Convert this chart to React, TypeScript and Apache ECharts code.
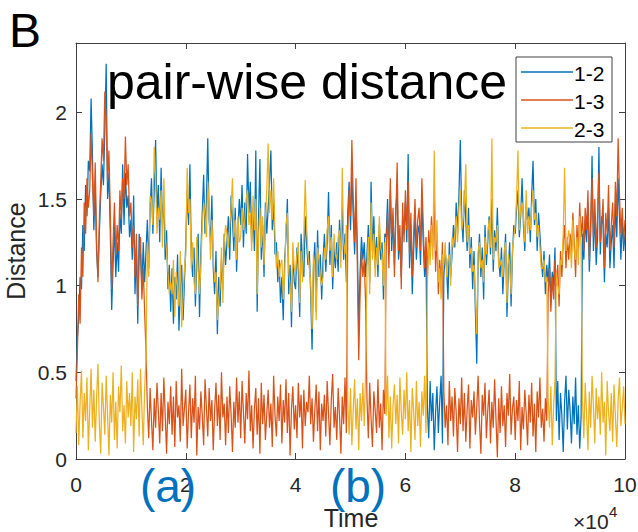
import React, { useEffect, useRef } from "react";
import * as echarts from "echarts";

// Pair-wise distances sampled every 250 time units (0 .. 100000)
const d12 = [
  0.45,0.70,0.82,1.05,0.98,1.35,1.20,1.58,1.40,1.72,
  1.66,2.08,1.75,1.32,1.58,1.20,1.05,1.30,1.52,1.70,
  1.58,1.90,2.28,1.50,1.65,1.30,0.86,1.12,1.36,1.05,
  1.25,1.08,1.42,1.30,1.70,1.35,1.65,1.45,1.52,1.28,
  1.38,1.15,1.52,0.95,1.22,0.78,1.30,1.18,0.98,1.25,
  1.02,1.20,1.38,1.10,1.45,1.62,1.30,1.55,1.84,1.40,
  1.58,1.25,1.68,1.35,1.50,1.15,1.32,0.98,1.12,0.85,
  1.10,0.78,1.05,0.92,1.18,0.74,0.98,1.12,0.80,1.02,
  1.25,1.55,1.35,1.70,1.18,1.05,1.22,0.88,1.15,1.30,
  0.82,1.20,1.42,1.64,1.30,1.48,1.85,1.38,1.25,1.52,
  1.10,0.95,1.20,0.72,1.05,0.88,1.15,0.98,1.30,1.12,
  1.25,1.40,1.15,1.52,1.38,1.20,1.45,1.08,1.32,1.50,
  1.35,1.58,1.22,1.48,1.30,1.76,1.42,1.60,1.25,1.45,
  1.20,1.78,0.85,1.40,1.73,1.15,1.35,1.05,1.48,1.30,
  1.45,1.60,1.78,1.32,1.50,1.18,1.25,1.02,1.15,0.90,
  1.05,0.80,1.15,1.28,1.50,0.95,1.12,0.76,1.20,1.02,
  0.98,1.22,1.08,0.82,1.30,1.15,1.05,1.40,1.25,1.12,
  1.20,0.95,0.63,1.10,1.25,0.85,1.32,1.05,1.18,0.92,
  1.15,1.30,1.08,1.25,1.54,1.12,1.35,0.98,1.22,1.10,
  1.25,1.08,1.38,1.20,1.45,1.15,1.30,1.02,1.42,1.60,
  1.32,1.65,1.40,1.18,1.48,1.22,0.75,1.08,1.28,1.15,
  1.25,1.05,1.18,1.35,1.02,1.60,1.20,1.40,1.10,1.28,
  1.05,1.35,1.15,1.25,0.92,1.30,1.28,1.50,1.18,1.55,
  1.20,1.38,1.12,1.45,1.55,1.15,1.28,1.05,1.40,1.30,
  1.48,1.25,1.76,1.10,1.35,0.95,1.20,1.42,1.15,1.30,
  1.35,1.12,1.50,1.25,1.05,1.20,0.30,0.12,0.45,0.22,
  0.38,0.05,0.27,0.42,0.15,0.33,0.48,0.09,1.05,1.20,
  1.10,0.92,1.25,1.05,1.18,1.35,1.22,1.48,1.30,1.52,
  1.84,1.40,1.25,1.55,1.38,1.20,1.45,1.10,1.28,0.98,
  1.20,0.85,0.55,1.15,1.30,1.05,1.22,0.92,1.35,1.12,
  1.25,1.40,1.18,1.50,1.08,1.32,1.20,1.45,1.15,1.05,
  1.22,0.95,1.15,1.30,0.82,1.10,1.25,0.88,1.18,1.35,
  1.30,1.45,1.55,1.28,1.40,1.62,1.35,1.20,1.48,1.38,
  1.45,1.25,1.52,1.72,1.35,1.50,1.20,1.42,1.30,1.15,
  1.05,1.20,0.95,1.12,1.02,1.18,0.90,1.08,1.00,1.22,
  0.22,0.45,0.11,0.38,0.25,0.04,0.33,0.48,0.17,0.40,
  0.28,0.09,0.36,0.20,0.47,0.14,0.31,0.06,0.24,1.30,
  1.15,1.38,1.25,1.48,1.08,1.30,1.75,1.20,1.42,1.12,
  1.28,1.80,1.18,1.40,1.35,1.02,1.30,1.22,1.45,1.10,
  1.25,1.35,1.10,1.48,1.28,1.62,1.40,1.15,1.38,1.20,
  1.30,
];

const d13 = [
  0.35,0.62,0.95,0.78,1.22,1.05,1.48,1.30,1.62,1.45,
  1.55,1.88,1.62,1.40,1.71,1.25,1.02,1.38,1.60,1.85,
  1.72,2.12,1.95,1.60,1.78,1.42,0.98,1.25,1.48,1.18,
  1.35,1.20,1.55,1.38,1.62,1.50,1.86,1.58,1.70,1.40,
  1.48,1.22,1.35,1.05,1.30,0.88,1.15,1.28,0.92,1.10,
  0.85,0.62,0.30,0.12,0.41,0.22,0.05,0.35,0.18,0.44,
  0.28,0.09,0.38,0.16,0.47,0.25,0.03,0.33,0.20,0.42,
  0.14,0.36,0.07,0.45,0.24,0.31,0.10,0.52,0.19,0.29,
  0.40,0.06,0.27,0.43,0.12,0.35,0.21,0.48,0.02,0.30,
  0.17,0.39,0.25,0.08,0.46,0.30,0.13,0.41,0.22,0.34,
  0.05,0.28,0.44,0.19,0.37,0.11,0.50,0.24,0.32,0.08,
  0.36,0.15,0.42,0.26,0.04,0.33,0.18,0.47,0.21,0.39,
  0.12,0.45,0.27,0.09,0.38,0.23,0.51,0.16,0.31,0.06,
  0.29,0.41,0.14,0.35,0.03,0.44,0.20,0.37,0.11,0.26,
  0.40,0.18,0.32,0.07,0.48,0.25,0.13,0.36,0.22,0.43,
  0.09,0.34,0.21,0.46,0.15,0.38,0.02,0.29,0.42,0.17,
  0.31,0.12,0.44,0.24,0.37,0.06,0.40,0.19,0.33,0.27,
  0.48,0.20,0.35,0.10,0.28,0.43,0.16,0.39,0.05,0.32,
  0.22,0.37,0.13,0.45,0.26,0.08,0.34,0.49,0.18,0.30,
  0.11,0.41,0.25,0.03,0.36,0.20,0.47,0.15,1.30,1.55,
  1.40,1.84,1.50,1.25,1.62,1.10,0.57,0.95,1.20,1.05,
  1.15,0.90,0.35,0.12,0.44,0.23,0.07,0.39,0.28,0.15,
  0.46,0.18,0.32,0.05,0.40,0.26,1.20,1.42,1.10,1.62,
  1.28,1.45,1.05,1.38,1.71,1.20,1.35,0.98,1.48,1.25,
  1.55,1.32,1.60,1.18,1.42,1.05,1.30,1.50,1.22,1.38,
  1.45,1.20,1.62,1.35,1.10,1.28,1.05,1.32,1.18,1.40,
  1.22,1.50,1.08,1.30,0.95,1.15,1.02,1.25,0.40,0.18,
  0.31,0.08,0.45,0.22,0.36,0.13,0.41,0.27,0.04,0.35,
  0.20,0.47,0.16,0.38,0.10,0.29,0.43,0.06,0.34,0.24,
  0.39,0.14,0.30,0.48,0.21,0.03,0.37,0.25,0.44,0.12,
  0.28,0.40,0.09,0.33,0.18,0.46,0.23,0.01,0.35,0.15,
  0.42,0.19,0.31,0.07,0.38,0.25,0.49,0.14,0.29,0.36,
  0.11,0.34,0.22,0.45,0.05,0.30,0.17,0.40,0.26,0.08,
  0.37,0.21,0.44,0.13,0.32,0.04,0.39,0.24,0.47,0.18,
  0.29,0.10,0.35,0.22,0.95,1.10,0.85,1.05,0.92,1.15,
  1.00,1.12,0.88,1.20,1.05,1.25,1.35,1.10,1.28,1.15,
  1.30,1.18,1.42,1.25,1.05,1.35,1.20,1.48,1.28,1.40,
  1.20,1.45,1.32,1.55,1.15,1.38,1.62,1.28,1.50,1.22,
  1.40,1.65,1.25,1.35,1.50,1.10,1.42,1.30,1.58,1.20,
  1.35,1.48,1.22,1.60,1.40,1.85,1.52,1.30,1.45,1.25,
  1.38,
];

const d23 = [
  0.15,0.42,0.08,0.33,0.51,0.12,0.38,0.22,0.47,0.05,
  0.28,0.52,0.18,0.40,0.10,0.35,0.55,0.20,0.03,0.44,
  0.30,0.14,0.48,0.25,0.02,0.37,0.21,0.50,0.11,0.33,
  0.06,0.42,0.27,0.54,0.16,0.31,0.09,0.45,0.24,0.38,
  0.19,0.50,0.04,0.36,0.23,0.46,0.13,0.52,0.29,0.08,
  0.40,0.58,1.25,1.05,1.52,1.48,1.35,1.80,1.62,1.30,
  1.45,1.38,1.55,1.22,1.62,1.28,1.20,1.08,0.95,1.02,
  0.95,1.15,0.82,1.08,1.00,0.88,1.20,0.76,0.93,1.10,
  1.18,1.68,1.42,1.50,1.10,1.25,1.02,0.95,1.28,1.08,
  0.95,1.12,1.35,1.48,1.40,1.28,1.60,1.45,1.15,1.38,
  1.18,1.02,1.08,0.80,0.92,1.00,1.22,0.90,1.25,1.35,
  1.30,1.22,1.35,1.45,1.62,1.28,1.38,1.15,1.40,1.25,
  1.28,1.45,1.32,1.38,1.50,1.55,1.35,1.42,1.20,1.52,
  1.32,1.50,0.95,1.28,1.45,1.22,1.40,1.12,1.38,1.55,
  1.82,1.42,1.55,1.38,1.62,1.28,1.10,1.20,1.05,1.12,
  1.15,0.92,1.05,1.35,1.42,1.08,1.00,0.85,1.25,1.10,
  1.08,1.18,1.25,0.90,1.20,1.02,1.30,1.61,1.35,1.18,
  1.10,1.02,0.75,1.18,1.12,0.80,1.22,1.15,1.05,1.00,
  1.05,1.22,1.15,1.32,1.40,1.20,1.28,1.05,1.30,1.18,
  1.15,1.28,1.32,1.10,1.68,1.25,1.18,1.35,0.32,0.14,
  0.41,0.08,0.29,0.46,0.17,0.35,0.05,0.38,0.22,0.44,
  0.19,0.50,1.10,1.28,0.95,1.48,1.15,1.30,1.05,1.22,
  1.12,1.40,1.22,1.18,1.00,1.25,0.25,0.48,0.12,0.36,
  0.06,0.31,0.43,0.20,0.37,0.09,0.47,0.27,0.14,0.40,
  0.23,0.50,0.16,0.34,0.04,0.41,0.28,0.11,0.45,0.19,
  0.33,0.07,0.39,0.25,0.48,0.15,1.00,1.25,1.12,1.35,
  1.15,1.78,1.20,1.38,1.02,1.10,0.92,1.18,1.12,1.25,
  1.05,1.15,1.18,1.00,1.28,1.22,1.30,1.40,1.25,1.45,
  1.55,1.32,1.38,1.48,1.70,1.25,1.35,1.18,1.22,1.08,
  1.12,0.95,0.72,1.20,1.25,1.10,1.15,1.02,1.28,1.18,
  1.30,1.38,1.22,1.85,1.15,1.28,1.25,1.35,1.10,1.12,
  1.15,1.05,1.20,1.25,0.90,1.18,1.12,0.95,1.22,1.28,
  1.35,1.50,1.78,1.32,1.45,1.48,1.40,1.25,1.55,1.30,
  1.40,1.32,1.45,1.55,1.38,1.42,1.28,1.35,1.22,1.10,
  1.10,1.15,1.02,1.05,0.35,0.18,0.42,0.08,0.30,0.46,
  1.08,1.00,0.95,1.15,1.12,1.30,1.68,1.20,1.25,1.32,
  1.25,1.10,1.38,1.20,1.15,1.28,1.12,1.40,1.22,0.35,
  0.12,0.44,0.26,0.05,0.39,0.18,0.48,0.31,0.09,0.41,
  0.23,0.36,0.14,0.50,0.21,0.33,0.02,0.45,0.27,0.16,
  0.38,0.10,0.43,0.25,0.07,0.34,0.47,0.19,0.30,0.42,
  0.20,
];

const TIME_STEP = 250;
const seriesNames = ["1-2", "1-3", "2-3"];
const seriesColors = ["#0072BD", "#D95319", "#EDB120"];
const X_MAX = 100000;
const X_INTERVAL = 20000;
const Y_MAX = 2.4;
const Y_INTERVAL = 0.5;

const FONT = "'Liberation Sans', Arial, Helvetica, sans-serif";
const AXIS_COLOR = "#404040";
const TEXT_COLOR = "#262626";

export default function App() {
  const ref = useRef<HTMLDivElement>(null);

  useEffect(() => {
    if (!ref.current) return;
    const chart = echarts.init(ref.current, null, { renderer: "svg" });
    const all = [d12, d13, d23];
    const toPairs = (arr: number[]) => arr.map((v, i) => [i * TIME_STEP, v]);

    const axisLine = { show: true, onZero: false, lineStyle: { color: AXIS_COLOR, width: 1 } };
    const axisTick = { show: true, inside: true, length: 6, lineStyle: { color: AXIS_COLOR, width: 1 } };

    const xBase = { type: "value", min: 0, max: X_MAX, interval: X_INTERVAL, axisLine, axisTick, splitLine: { show: false } };
    const yBase = { type: "value", min: 0, max: Y_MAX, interval: Y_INTERVAL, axisLine, axisTick, splitLine: { show: false } };

    const legendGraphics: any[] = [
      {
        type: "rect",
        shape: { x: 516, y: 57, width: 96, height: 85 },
        style: { fill: "#ffffff", stroke: AXIS_COLOR, lineWidth: 1 },
        z: 100,
      },
    ];
    seriesNames.forEach((name, k) => {
      const y = 72 + k * 28;
      legendGraphics.push({
        type: "line",
        shape: { x1: 521, y1: y, x2: 573, y2: y },
        style: { stroke: seriesColors[k], lineWidth: 1.3 },
        z: 101,
      });
      legendGraphics.push({
        type: "text",
        x: 574,
        y: y + 1,
        style: { text: name, font: `21px ${FONT}`, fill: "#000", textAlign: "left", textVerticalAlign: "middle" },
        z: 101,
      });
    });

    chart.setOption({
      animation: false,
      backgroundColor: "#ffffff",
      grid: { left: 76, right: 13, top: 43, bottom: 73, containLabel: false, outerBoundsMode: "none" },
      xAxis: [
        {
          ...xBase,
          position: "bottom",
          axisLabel: {
            color: TEXT_COLOR,
            fontSize: 21,
            fontFamily: FONT,
            margin: 15,
            formatter: (v: number) => String(v / 10000),
          },
        },
        { ...xBase, position: "top", axisLabel: { show: false } },
      ],
      yAxis: [
        {
          ...yBase,
          position: "left",
          axisLabel: {
            color: TEXT_COLOR,
            fontSize: 21,
            fontFamily: FONT,
            margin: 9,
            formatter: (v: number) => (v > 2.05 ? "" : String(v)),
          },
        },
        { ...yBase, position: "right", axisLabel: { show: false } },
      ],
      series: all.map((arr, k) => ({
        type: "line",
        name: seriesNames[k],
        data: toPairs(arr),
        xAxisIndex: 0,
        yAxisIndex: 0,
        showSymbol: false,
        symbol: "none",
        silent: true,
        lineStyle: { width: 1.25, color: seriesColors[k] },
        itemStyle: { color: seriesColors[k] },
        z: 2 + k,
      })),
      graphic: [
        {
          type: "text",
          x: 9,
          y: 30,
          style: { text: "B", font: `48px ${FONT}`, fill: "#000", textAlign: "left", textVerticalAlign: "middle" },
        },
        {
          type: "text",
          x: 107,
          y: 82,
          style: { text: "pair-wise distance", font: `50px ${FONT}`, fill: "#000", textAlign: "left", textVerticalAlign: "middle" },
          z: 50,
        },
        ...legendGraphics,
        {
          type: "text",
          x: 168,
          y: 486,
          style: { text: "(a)", font: `46px ${FONT}`, fill: "#0072BD", textAlign: "center", textVerticalAlign: "middle" },
          z: 50,
        },
        {
          type: "text",
          x: 358,
          y: 486,
          style: { text: "(b)", font: `46px ${FONT}`, fill: "#0072BD", textAlign: "center", textVerticalAlign: "middle" },
          z: 50,
        },
        {
          type: "text",
          x: 351,
          y: 518,
          style: { text: "Time", font: `25px ${FONT}`, fill: TEXT_COLOR, textAlign: "center", textVerticalAlign: "middle" },
        },
        {
          type: "text",
          x: 16,
          y: 251,
          rotation: Math.PI / 2,
          style: { text: "Distance", font: `25px ${FONT}`, fill: TEXT_COLOR, textAlign: "center", textVerticalAlign: "middle" },
        },
        {
          type: "text",
          x: 573,
          y: 521,
          style: { text: "×10", font: `21px ${FONT}`, fill: TEXT_COLOR, textAlign: "left", textVerticalAlign: "middle" },
        },
        {
          type: "text",
          x: 609,
          y: 511,
          style: { text: "4", font: `15px ${FONT}`, fill: TEXT_COLOR, textAlign: "left", textVerticalAlign: "middle" },
        },
      ],
    });

    return () => chart.dispose();
  }, []);

  return <div ref={ref} style={{ position: "fixed", left: 0, top: 0, width: 638, height: 532 }} />;
}
